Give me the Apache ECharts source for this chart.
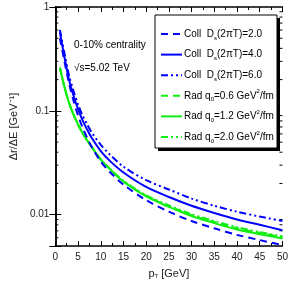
<!DOCTYPE html>
<html><head><meta charset="utf-8">
<script src="https://cdn.jsdelivr.net/npm/echarts@6/dist/echarts.min.js"></script>
<style>html,body{margin:0;padding:0;background:#fff}#c{width:291px;height:284px}</style>
</head><body><div id="c"></div>
<script>
const pT = [1, 2, 3, 4, 5, 6, 7, 8, 10, 12, 15, 20, 25, 30, 35, 40, 45, 50];
const coll20 = [0.50, 0.30, 0.185, 0.125, 0.090, 0.069, 0.055, 0.045, 0.0325, 0.0258, 0.0195, 0.0138, 0.0107, 0.0087, 0.0074, 0.0064, 0.0057, 0.0051];
const coll40 = [0.57, 0.33, 0.20, 0.140, 0.104, 0.081, 0.066, 0.055, 0.041, 0.033, 0.0255, 0.0185, 0.0148, 0.0122, 0.0104, 0.0090, 0.0080, 0.0071];
const coll60 = [0.60, 0.36, 0.22, 0.155, 0.115, 0.090, 0.074, 0.062, 0.047, 0.038, 0.029, 0.0215, 0.0175, 0.0143, 0.0122, 0.0107, 0.0096, 0.0087];
const rad06 = [0.26, 0.17, 0.12, 0.092, 0.074, 0.061, 0.052, 0.045, 0.034, 0.0277, 0.0210, 0.0152, 0.0121, 0.0099, 0.0085, 0.0074, 0.0067, 0.0061];
const rad12 = [0.26, 0.17, 0.12, 0.092, 0.074, 0.061, 0.052, 0.045, 0.034, 0.0275, 0.0208, 0.0150, 0.0119, 0.0097, 0.0083, 0.0072, 0.0065, 0.0059];
const rad20 = [0.26, 0.17, 0.12, 0.092, 0.074, 0.061, 0.052, 0.045, 0.034, 0.0278, 0.0212, 0.0154, 0.0123, 0.0101, 0.0087, 0.0076, 0.0068, 0.0062];
const xTickLabels = ['0','5','10','15','20','25','30','35','40','45','50'];
const yTickLabels = ['0.01','0.1','1'];
const yMinorTicks = [0.006,0.007,0.008,0.009,0.02,0.03,0.04,0.05,0.06,0.07,0.08,0.09,0.2,0.3,0.4,0.5,0.6,0.7,0.8,0.9];
const legendNames = ['Coll  D{sub|s}(2πT)=2.0','Coll  D{sub|s}(2πT)=4.0','Coll  D{sub|s}(2πT)=6.0',
  'Rad q{sub|0}=0.6 GeV{sup|2}/fm','Rad q{sub|0}=1.2 GeV{sup|2}/fm','Rad q{sub|0}=2.0 GeV{sup|2}/fm'];

const BLUE = '#0000ff', GREEN = '#11ee11';
const DASH = [7,5], SOLID = 'solid', DDOT = [7,3,2,3,2,3];
const styles = [
  {c: BLUE, t: DASH, d: coll20}, {c: BLUE, t: SOLID, d: coll40}, {c: BLUE, t: DDOT, d: coll60},
  {c: GREEN, t: DASH, d: rad06}, {c: GREEN, t: SOLID, d: rad12}, {c: GREEN, t: DDOT, d: rad20}
];
const FONT = '"Liberation Sans Narrow", "Liberation Sans", Arial, sans-serif';
const chart = echarts.init(document.getElementById('c'));

const series = styles.map((s, i) => ({
  type: 'line', name: 'S' + i, xAxisIndex: 0, yAxisIndex: 0, showSymbol: false, symbol: 'none', smooth: 0.3,
  lineStyle: {color: s.c, width: 2, type: s.t}, data: pT.map((x, k) => [x, s.d[k]]), z: i < 3 ? 3 : 2
}));
series.push({
  type: 'custom', xAxisIndex: 0, yAxisIndex: 0, silent: true, clip: false,
  data: yMinorTicks.map(v => [0, v]),
  renderItem: (params, api) => {
    const p = api.coord([0, api.value(1)]);
    const q = api.coord([50, api.value(1)]);
    return {type: 'group', children: [
      {type: 'line', shape: {x1: p[0], y1: p[1], x2: p[0] + 3, y2: p[1]}, style: {stroke: '#000', lineWidth: 1}},
      {type: 'line', shape: {x1: q[0] - 3, y1: q[1], x2: q[0], y2: q[1]}, style: {stroke: '#000', lineWidth: 1}}
    ]};
  }
});

const rich = {
  t: {fontFamily: FONT, fontSize: 10, color: '#000', lineHeight: 14, verticalAlign: 'middle'},
  sub: {fontFamily: FONT, fontSize: 6, color: '#000', lineHeight: 14, verticalAlign: 'bottom', padding: [4,0,0,0]},
  sup: {fontFamily: FONT, fontSize: 6, color: '#000', lineHeight: 14, verticalAlign: 'top', padding: [0,0,4,0]}
};
const boxL = 155, boxT = 15, boxW = 122, boxH = 133;
const graphics = [
  {type: 'rect', shape: {x: boxL + 3, y: boxT + 3, width: boxW, height: boxH}, style: {fill: '#000'}, z: 10},
  {type: 'rect', shape: {x: boxL, y: boxT, width: boxW, height: boxH}, style: {fill: '#fff', stroke: '#000', lineWidth: 1}, z: 11}
];
styles.forEach((s, i) => {
  const y = 34 + i * 20.6;
  graphics.push({type: 'line', shape: {x1: 161, y1: y, x2: 182, y2: y}, style: {stroke: s.c, lineWidth: 2, lineDash: s.t === SOLID ? null : s.t}, z: 12});
  const txt = legendNames[i].replace(/^([^{]*)/, '{t|$1}').replace(/\}([^{]+)/g, '}{t|$1}');
  graphics.push({type: 'text', x: 184, y: y, style: {text: txt, rich: rich, verticalAlign: 'middle', textVerticalAlign: 'middle'}, z: 12});
});
graphics.push({type: 'text', x: 74, y: 45, style: {text: '0-10% centrality', font: '10px ' + FONT, fill: '#000', verticalAlign: 'middle'}, z: 12});
graphics.push({type: 'text', x: 74, y: 68, style: {text: '√s=5.02 TeV', font: '10px ' + FONT, fill: '#000', verticalAlign: 'middle'}, z: 12});

const axisCommon = {axisLine: {show: true, lineStyle: {color: '#000', width: 1.5}}, splitLine: {show: false}};
chart.setOption({
  animation: false,
  grid: {left: 34, right: 6, top: 7, bottom: 36},
  xAxis: [
    Object.assign({type: 'value', min: 0, max: 50, interval: 5, position: 'bottom',
      axisTick: {inside: true, length: 5, lineStyle: {color: '#000'}},
      minorTick: {show: true, splitNumber: 2, length: 3, lineStyle: {color: '#000'}},
      axisLabel: {color: '#222', fontFamily: FONT, fontSize: 10, margin: 6,
        formatter: v => xTickLabels.includes(String(v)) ? String(v) : ''},
      name: 'p{s|T} [GeV]', nameLocation: 'middle', nameGap: 22,
      nameTextStyle: {color: '#222', fontFamily: FONT, fontSize: 11, padding: [0, 0, 0, 0],
        rich: {s: {fontSize: 6, fontFamily: FONT, color: '#222', verticalAlign: 'bottom', padding: [5,0,0,0]}}}
    }, axisCommon),
    Object.assign({type: 'value', min: 0, max: 50, interval: 5, position: 'top',
      axisTick: {inside: true, length: 5, lineStyle: {color: '#000'}},
      minorTick: {show: true, splitNumber: 2, length: 3, lineStyle: {color: '#000'}},
      axisLabel: {show: false}}, axisCommon)
  ],
  yAxis: [
    Object.assign({type: 'log', min: 0.005, max: 1, logBase: 10, position: 'left',
      axisTick: {inside: true, length: 6, lineStyle: {color: '#000'}},
      axisLabel: {color: '#222', fontFamily: FONT, fontSize: 10, margin: 6,
        formatter: v => { const s = String(+v.toPrecision(3)); return yTickLabels.includes(s) ? s : ''; }},
      name: 'Δr/ΔE [GeV⁻¹]', nameLocation: 'middle', nameGap: 22, nameRotate: 90,
      nameTextStyle: {color: '#222', fontFamily: FONT, fontSize: 11}
    }, axisCommon),
    Object.assign({type: 'log', min: 0.005, max: 1, logBase: 10, position: 'right',
      axisTick: {inside: true, length: 6, lineStyle: {color: '#000'}},
      axisLabel: {show: false}}, axisCommon)
  ],
  series: series,
  graphic: graphics
});
</script></body></html>
